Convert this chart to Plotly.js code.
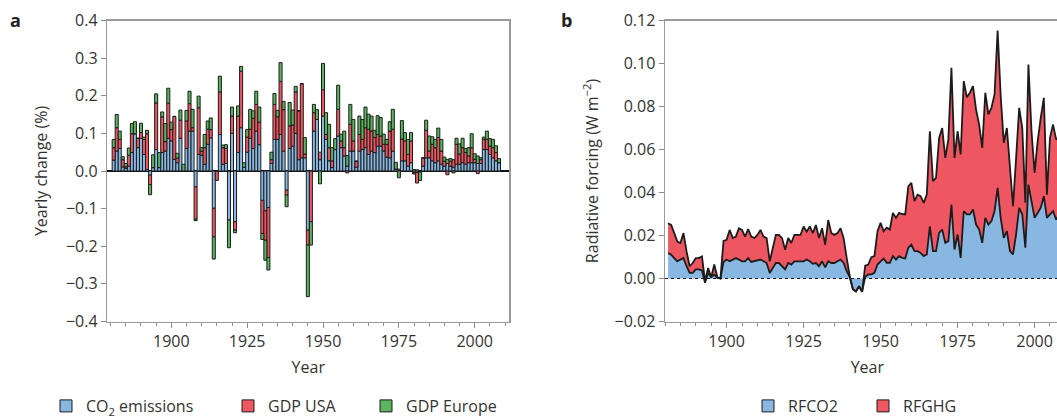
<!DOCTYPE html>
<html>
<head>
<meta charset="utf-8">
<script src="https://cdn.plot.ly/plotly-3.0.1.min.js"></script>
<style>
html,body{margin:0;padding:0;overflow:hidden;background:#fff;}
#chart{width:1080px;height:440px;}
</style>
</head>
<body>
<div id="chart"></div>
<script>
// ---------- Panel a: yearly change (%) ----------
const yearsA = [1881,1882,1883,1884,1885,1886,1887,1888,1889,1890,1891,1892,1893,1894,1895,1896,1897,1898,1899,1900,
1901,1902,1903,1904,1905,1906,1907,1908,1909,1910,1911,1912,1913,1914,1915,1916,1917,1918,1919,1920,
1921,1922,1923,1924,1925,1926,1927,1928,1929,1930,1931,1932,1933,1934,1935,1936,1937,1938,1939,1940,
1941,1942,1943,1944,1945,1946,1947,1948,1949,1950,1951,1952,1953,1954,1955,1956,1957,1958,1959,1960,
1961,1962,1963,1964,1965,1966,1967,1968,1969,1970,1971,1972,1973,1974,1975,1976,1977,1978,1979,1980,
1981,1982,1983,1984,1985,1986,1987,1988,1989,1990,1991,1992,1993,1994,1995,1996,1997,1998,1999,2000,
2001,2002,2003,2004,2005,2006,2007,2008];

const co2Emissions = [0.029,0.053,0.060,0.011,0.007,0.013,0.049,0.099,0.062,0.087,0.044,0.004,-0.011,0.009,0.057,0.009,0.049,0.053,0.087,0.080,
0.031,0.022,0.087,0.000,0.060,0.106,0.106,-0.042,0.044,0.042,0.018,0.071,0.088,-0.099,0.000,0.097,0.018,0.020,-0.130,0.100,
-0.135,0.049,0.115,0.010,0.050,0.087,0.060,0.106,0.070,-0.078,-0.106,-0.097,0.020,0.084,0.084,0.097,0.053,-0.051,0.060,0.066,
0.100,0.030,0.035,0.035,-0.157,0.000,0.106,0.137,0.030,0.146,0.084,0.027,0.009,0.057,0.093,0.062,0.040,0.013,0.053,0.053,
0.010,0.053,0.057,0.062,0.044,0.053,0.049,0.066,0.066,0.053,0.037,0.035,0.053,0.005,0.000,0.027,0.027,0.013,0.022,-0.005,
-0.004,-0.003,0.013,0.035,0.035,0.027,0.022,0.027,0.018,0.013,0.020,0.013,0.010,0.018,0.018,0.022,0.018,0.022,0.022,0.022,
0.020,0.020,0.057,0.057,0.044,0.035,0.027,0.022];

const gdpUSA = [0.033,0.062,0.024,0.019,0.004,0.029,0.050,0.000,0.025,0.015,0.040,0.095,-0.025,0.000,0.124,0.000,0.095,0.025,0.093,0.030,
0.114,0.012,0.048,0.000,0.073,0.073,0.009,-0.086,0.124,0.011,0.044,0.040,0.022,-0.076,-0.025,0.113,0.044,0.040,0.000,0.046,
-0.022,0.097,0.150,0.000,0.040,0.024,0.080,0.071,0.060,-0.088,-0.078,-0.133,0.010,0.093,0.060,0.141,0.110,-0.013,0.060,0.056,
0.110,0.130,0.197,0.010,-0.040,-0.135,0.049,0.000,0.020,0.070,0.013,0.035,0.018,0.000,0.071,0.018,0.022,-0.005,0.071,0.027,
0.016,0.044,0.027,0.053,0.067,0.053,0.040,0.031,0.027,0.018,0.034,0.071,0.058,0.000,0.005,0.058,0.053,0.031,0.058,-0.003,
-0.028,0.000,0.022,0.073,0.018,0.044,0.040,0.062,0.035,0.013,-0.010,0.013,0.020,0.053,0.027,0.040,0.031,0.018,0.040,0.009,
-0.007,0.010,0.027,0.027,0.022,0.027,0.022,0.000];

const gdpEurope = [0.022,0.035,0.022,0.008,0.009,0.019,0.027,0.032,0.000,0.025,0.006,0.009,-0.027,0.034,0.024,0.040,0.013,0.048,0.040,0.020,
0.000,0.013,0.027,0.018,0.028,0.033,0.049,-0.004,0.031,0.009,0.035,0.022,0.031,-0.059,0.000,0.042,0.007,0.010,-0.074,0.024,
-0.007,0.027,0.013,0.012,0.020,0.053,0.020,0.035,0.040,-0.016,-0.053,-0.033,0.020,0.029,0.017,0.050,0.022,-0.031,0.062,0.040,
0.015,0.000,0.000,0.044,-0.137,-0.062,0.022,0.026,-0.034,0.070,0.058,0.062,0.035,0.029,0.064,0.018,0.044,0.028,0.053,0.057,
0.000,0.049,0.053,0.055,0.040,0.040,0.019,0.050,0.049,0.027,0.013,0.025,0.053,0.018,-0.018,0.049,0.022,0.040,0.022,0.004,
0.003,-0.022,0.000,0.027,0.040,0.020,0.022,0.025,0.031,0.011,0.011,0.007,-0.005,0.016,0.027,0.025,0.011,0.022,0.037,0.015,
0.020,0.005,0.006,0.022,0.020,0.022,0.018,0.011];

// ---------- Panel b: radiative forcing (W m-2) ----------
const yearsB = yearsA;
const rfCO2 = [0.0118,0.0111,0.0095,0.0080,0.0088,0.0095,0.0057,0.0026,0.0026,0.0042,0.0042,0.0037,-0.0020,0.0026,0.0006,0.0018,0.0003,0.0000,0.0077,0.0088,
0.0080,0.0088,0.0095,0.0088,0.0080,0.0080,0.0095,0.0077,0.0080,0.0083,0.0088,0.0080,0.0072,0.0026,0.0049,0.0072,0.0072,0.0057,0.0042,0.0072,
0.0065,0.0080,0.0080,0.0080,0.0080,0.0088,0.0080,0.0068,0.0072,0.0057,0.0080,0.0052,0.0080,0.0072,0.0072,0.0080,0.0088,0.0072,0.0034,0.0006,
-0.0050,-0.0060,-0.0036,-0.0062,0.0008,0.0019,0.0019,0.0026,0.0065,0.0080,0.0093,0.0073,0.0073,0.0104,0.0088,0.0104,0.0096,0.0093,0.0143,0.0158,
0.0127,0.0127,0.0119,0.0104,0.0112,0.0243,0.0127,0.0127,0.0212,0.0228,0.0166,0.0174,0.0344,0.0135,0.0205,0.0096,0.0313,0.0298,0.0298,0.0321,
0.0251,0.0228,0.0166,0.0282,0.0251,0.0267,0.0313,0.0422,0.0282,0.0189,0.0220,0.0127,0.0112,0.0205,0.0329,0.0298,0.0143,0.0437,0.0360,0.0282,
0.0305,0.0329,0.0383,0.0282,0.0298,0.0313,0.0274,0.0300];

const rfGHG = [0.0257,0.0249,0.0211,0.0172,0.0165,0.0211,0.0126,0.0057,0.0072,0.0095,0.0095,0.0103,-0.0012,0.0049,0.0006,0.0065,0.0006,0.0000,0.0175,0.0180,
0.0226,0.0188,0.0195,0.0234,0.0226,0.0195,0.0230,0.0195,0.0188,0.0203,0.0226,0.0195,0.0188,0.0080,0.0142,0.0203,0.0203,0.0188,0.0134,0.0188,
0.0165,0.0203,0.0203,0.0203,0.0242,0.0218,0.0242,0.0211,0.0249,0.0188,0.0234,0.0157,0.0272,0.0211,0.0203,0.0211,0.0234,0.0188,0.0095,0.0010,
-0.0050,-0.0060,-0.0036,-0.0062,0.0060,0.0065,0.0099,0.0104,0.0220,0.0259,0.0220,0.0236,0.0228,0.0305,0.0282,0.0305,0.0300,0.0298,0.0429,0.0445,
0.0360,0.0390,0.0383,0.0352,0.0390,0.0685,0.0453,0.0468,0.0654,0.0700,0.0561,0.0647,0.0980,0.0561,0.0685,0.0577,0.0918,0.0843,0.0864,0.0895,
0.0786,0.0716,0.0608,0.0864,0.0763,0.0794,0.0856,0.1153,0.0848,0.0631,0.0700,0.0499,0.0336,0.0561,0.0794,0.0700,0.0352,0.0995,0.0685,0.0491,
0.0639,0.0747,0.0840,0.0390,0.0654,0.0716,0.0646,0.0660];

const xTicks = [1900,1925,1950,1975,2000];
const seriesNames = ['CO<sub>2</sub> emissions','GDP USA','GDP Europe','RFCO2','RFGHG'];

// ---------- styles ----------
const W = 1080, H = 440;   // page window is 1057x418; the extra area is clipped
const BLUE = '#88b8e2', RED = '#ee5761', GREEN = '#5bb45e';
const FONT = 'Open Sans, Noto Sans, sans-serif';
const TXT = '#333333';
const px = v => v / W;
const py = v => 1 - v / H;
const outline = {color:'#1c1c1c', width:1};

const traces = [
  {type:'bar', x:yearsA, y:co2Emissions, name:seriesNames[0], marker:{color:BLUE, line:outline}, xaxis:'x', yaxis:'y', legend:'legend'},
  {type:'bar', x:yearsA, y:gdpUSA, name:seriesNames[1], marker:{color:RED, line:outline}, xaxis:'x', yaxis:'y', legend:'legend2'},
  {type:'bar', x:yearsA, y:gdpEurope, name:seriesNames[2], marker:{color:GREEN, line:outline}, xaxis:'x', yaxis:'y', legend:'legend3'},
  {type:'scatter', mode:'lines', x:yearsB, y:rfCO2, name:seriesNames[3], fill:'tozeroy', fillcolor:BLUE,
   line:{color:'#1c1c1c', width:1.8}, xaxis:'x2', yaxis:'y2', showlegend:false},
  {type:'scatter', mode:'lines', x:yearsB, y:rfGHG, name:seriesNames[4], fill:'tonexty', fillcolor:RED,
   line:{color:'#1c1c1c', width:1.8}, xaxis:'x2', yaxis:'y2', showlegend:false},
  // legend keys for panel b
  {type:'bar', x:[null], y:[null], name:seriesNames[3], marker:{color:BLUE, line:outline}, xaxis:'x2', yaxis:'y2', legend:'legend4'},
  {type:'bar', x:[null], y:[null], name:seriesNames[4], marker:{color:RED, line:outline}, xaxis:'x2', yaxis:'y2', legend:'legend5'}
];

const axisCommon = {
  showgrid:false, ticks:'outside', tickcolor:'#8a8a8a', tickwidth:1,
  linecolor:'#9a9a9a', linewidth:1.5, mirror:true,
  tickfont:{family:FONT, size:16, color:TXT}
};
const xCommon = Object.assign({}, axisCommon, {
  tickmode:'array', tickvals:xTicks, ticktext:xTicks.map(String), ticklen:5, zeroline:false,
  minor:{ticks:'outside', dtick:5, tick0:1880, ticklen:3, tickcolor:'#8a8a8a', showgrid:false},
  title:{text:'Year', font:{family:FONT, size:16, color:TXT}, standoff:10}
});

const legendCommon = {orientation:'h', yanchor:'middle', y:py(406), xanchor:'left',
  font:{family:FONT, size:16, color:TXT}, bgcolor:'rgba(0,0,0,0)', borderwidth:0};

const layout = {
  width:W, height:H,
  margin:{l:0, r:0, t:0, b:0},
  paper_bgcolor:'#ffffff', plot_bgcolor:'#ffffff',
  font:{family:FONT, size:16, color:TXT},
  barmode:'relative', bargap:0,
  xaxis:Object.assign({}, xCommon, {domain:[px(107.3), px(509.3)], range:[1878.9, 2011.4], anchor:'y'}),
  yaxis:Object.assign({}, axisCommon, {domain:[py(321.5), py(20.5)], range:[-0.4, 0.4], dtick:0.1, tick0:0,
    tickformat:'.1f', ticklen:5, anchor:'x',
    zeroline:true, zerolinecolor:'#111111', zerolinewidth:1.2,
    title:{text:'Yearly change (%)', font:{family:FONT, size:16, color:TXT}, standoff:14}}),
  xaxis2:Object.assign({}, xCommon, {domain:[px(665), px(1069.7)], range:[1880, 2011.4], anchor:'y2'}),
  yaxis2:Object.assign({}, axisCommon, {domain:[py(321.5), py(20.5)], range:[-0.02, 0.12], dtick:0.02, tick0:0,
    tickformat:'.2f', ticklen:5, anchor:'x2', zeroline:false,
    title:{text:'Radiative forcing (W m<sup>−2</sup>)', font:{family:FONT, size:16, color:TXT}, standoff:12}}),
  legend: Object.assign({}, legendCommon, {x:px(46)}),
  legend2:Object.assign({}, legendCommon, {x:px(228)}),
  legend3:Object.assign({}, legendCommon, {x:px(366)}),
  legend4:Object.assign({}, legendCommon, {x:px(748)}),
  legend5:Object.assign({}, legendCommon, {x:px(863)}),
  shapes:[
    {type:'line', xref:'x2 domain', yref:'y2', x0:0, x1:1, y0:0, y1:0,
     line:{color:'#111111', width:1, dash:'dot'}, layer:'above'}
  ],
  annotations:[
    {text:'<b>a</b>', xref:'paper', yref:'paper', x:px(15), y:py(20), xanchor:'center', yanchor:'middle',
     showarrow:false, font:{family:FONT, size:18, color:'#222'}},
    {text:'<b>b</b>', xref:'paper', yref:'paper', x:px(566), y:py(20), xanchor:'center', yanchor:'middle',
     showarrow:false, font:{family:FONT, size:18, color:'#222'}}
  ]
};

Plotly.newPlot('chart', traces, layout, {staticPlot:true, displayModeBar:false});
</script>
</body>
</html>
